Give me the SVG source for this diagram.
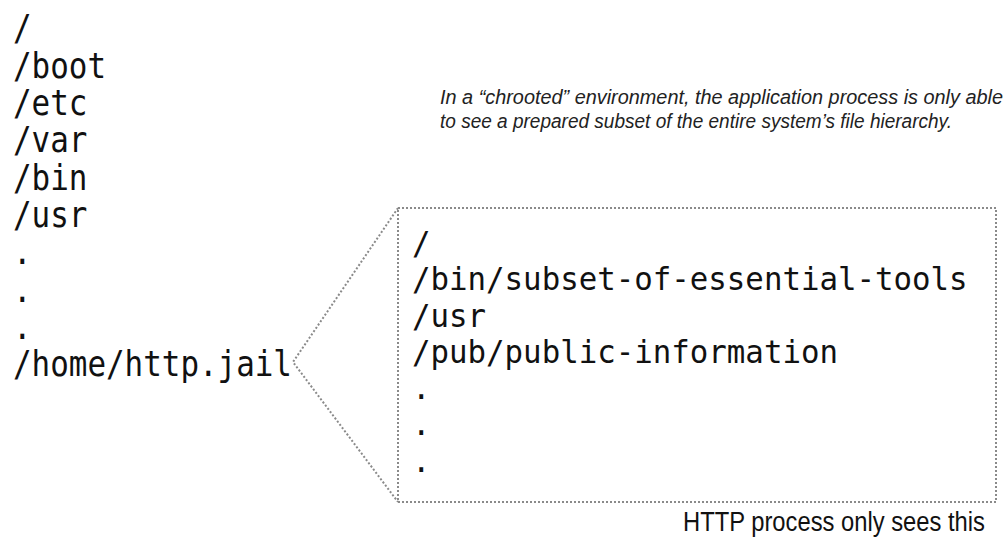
<svg xmlns="http://www.w3.org/2000/svg" width="1008" height="542" viewBox="0 0 1008 542">
  <style>
    .mono { font-family: "DejaVu Sans Mono", "Liberation Mono", monospace; fill: #111; }
    .big { font-size: 35px; }
    .mid { font-size: 32px; }
    .note { font-family: "Liberation Sans", "Open Sans", sans-serif; font-style: italic; font-size: 20px; fill: #222; }
    .caption { font-family: "Liberation Sans", "Open Sans", sans-serif; font-size: 27px; fill: #111; }
    .dotted { fill: none; stroke: #8a8a8a; stroke-width: 2; stroke-dasharray: 2 2; }
  </style>
  <rect width="1008" height="542" fill="#fff"/>

  <!-- full system hierarchy (narrowed monospace) -->
  <g id="system-tree" transform="translate(13 0) scale(0.883 1)">
    <text class="mono big" x="0" y="40.5">/</text>
    <text class="mono big" x="0" y="77.8">/boot</text>
    <text class="mono big" x="0" y="115.1">/etc</text>
    <text class="mono big" x="0" y="152.4">/var</text>
    <text class="mono big" x="0" y="189.7">/bin</text>
    <text class="mono big" x="0" y="227">/usr</text>
    <text class="mono big" x="0" y="264.3">.</text>
    <text class="mono big" x="0" y="301.6">.</text>
    <text class="mono big" x="0" y="338.9">.</text>
    <text class="mono big" x="0" y="376.2">/home/http.jail</text>
  </g>

  <!-- explanatory note -->
  <g id="note">
    <text class="note" x="440" y="104" textLength="563" lengthAdjust="spacingAndGlyphs">In a “chrooted” environment, the application process is only able</text>
    <text class="note" x="440" y="128" textLength="512" lengthAdjust="spacingAndGlyphs">to see a prepared subset of the entire system’s file hierarchy.</text>
  </g>

  <!-- zoom lines from the jail directory to its view -->
  <g id="connectors">
    <polyline class="dotted" points="398,208 293,362 398,502"/>
  </g>

  <!-- chrooted view -->
  <g id="jail-view">
    <rect class="dotted" x="398" y="208" width="598" height="294"/>
    <g transform="translate(412 0) scale(0.962 1)">
      <text class="mono mid" x="0" y="254">/</text>
      <text class="mono mid" x="0" y="290.3">/bin/subset-of-essential-tools</text>
      <text class="mono mid" x="0" y="326.6">/usr</text>
      <text class="mono mid" x="0" y="362.9">/pub/public-information</text>
      <text class="mono mid" x="0" y="399.2">.</text>
      <text class="mono mid" x="0" y="435.5">.</text>
      <text class="mono mid" x="0" y="471.8">.</text>
    </g>
  </g>

  <g id="caption">
    <text class="caption" x="683" y="531" textLength="302" lengthAdjust="spacingAndGlyphs">HTTP process only sees this</text>
  </g>
</svg>
